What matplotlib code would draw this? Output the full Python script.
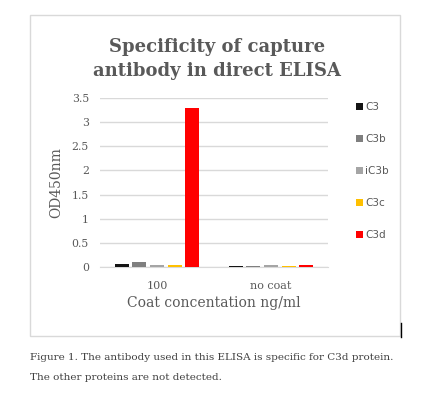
import numpy as np
import matplotlib.pyplot as plt
from matplotlib.patches import Rectangle

groups = ['100', 'no coat']
proteins = ['C3', 'C3b', 'iC3b', 'C3c', 'C3d']
colors = ['#141414', '#7f7f7f', '#a5a5a5', '#ffc000', '#ff0000']
od_100 = [0.07, 0.10, 0.05, 0.05, 3.30]
od_nocoat = [0.03, 0.02, 0.04, 0.02, 0.05]
yticks = [0, 0.5, 1, 1.5, 2, 2.5, 3, 3.5]
ytick_labels = ['0', '0.5', '1', '1.5', '2', '2.5', '3', '3.5']

W, H = 430, 396
txt = '#595959'
fam = 'DejaVu Serif'

fig = plt.figure(figsize=(W / 100, H / 100), dpi=100)
fig.patch.set_facecolor('white')

# chart frame
fig.add_artist(Rectangle((30 / W, 1 - 336 / H), 370 / W, 321 / H, transform=fig.transFigure,
                         fill=False, edgecolor='#d9d9d9', linewidth=1))
fig.add_artist(plt.Line2D([401 / W, 401 / W], [1 - 323 / H, 1 - 337 / H],
                          transform=fig.transFigure, color='black', linewidth=1))

ax = fig.add_axes([100 / W, 1 - 267 / H, 228 / W, 169 / H])
x = np.arange(len(groups))
step = 0.154
width = 0.123
data = np.array([od_100, od_nocoat])
for i, (p, c) in enumerate(zip(proteins, colors)):
    ax.bar(x + (i - 2) * step, data[:, i], width, color=c, label=p, zorder=3)

ax.set_xlim(-0.5, 1.5)
ax.set_ylim(0, 3.5)
ax.set_yticks(yticks)
ax.set_yticklabels(ytick_labels, fontsize=7.8, color=txt, family=fam)
ax.set_xticks(x)
ax.set_xticklabels(groups, fontsize=8, color=txt, family=fam)
ax.tick_params(length=0, pad=8)
ax.tick_params(axis='x', pad=10)
ax.grid(axis='y', color='#d9d9d9', linewidth=1, zorder=0)
for s in ['top', 'right', 'left']:
    ax.spines[s].set_visible(False)
ax.spines['bottom'].set_color('#d9d9d9')
ax.set_ylabel('OD450nm', fontsize=10, color=txt, family=fam, labelpad=6)
ax.set_xlabel('Coat concentation ng/ml', fontsize=10, color=txt, family=fam, labelpad=4)

leg = ax.legend(loc='upper left', bbox_to_anchor=(1.08, 1.03), frameon=False,
                prop={'family': 'DejaVu Sans', 'size': 7.5}, labelspacing=2.1,
                handlelength=0.7, handleheight=0.7, handletextpad=0.2)
for t in leg.get_texts():
    t.set_color(txt)

fig.text(217 / W, 1 - 59 / H, 'Specificity of capture\nantibody in direct ELISA',
         ha='center', va='center', fontsize=13, fontweight='bold', color=txt,
         family=fam, linespacing=1.45)

fig.text(30 / W, 1 - 357 / H, 'Figure 1. The antibody used in this ELISA is specific for C3d protein.',
         ha='left', va='center', fontsize=7.45, color='#404040', family=fam)
fig.text(30 / W, 1 - 377 / H, 'The other proteins are not detected.',
         ha='left', va='center', fontsize=7.45, color='#404040', family=fam)

fig.savefig('out.png', dpi=100)
